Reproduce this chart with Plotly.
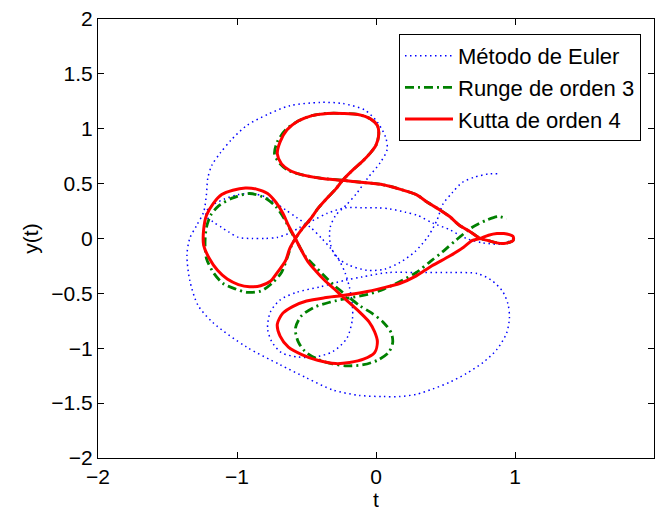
import plotly.graph_objects as go

# Kutta de orden 4 (red)
red_x = [0.99, 0.985, 0.96, 0.92, 0.87, 0.81, 0.75, 0.68, 0.60, 0.53, 0.46, 0.37, 0.29, 0.17, 0.05, -0.09, -0.24,
         -0.40, -0.53, -0.62, -0.68, -0.71, -0.69, -0.64, -0.56, -0.46, -0.35, -0.24, -0.13, -0.04, 0.01, 0.02,
         0.0, -0.04, -0.10, -0.17, -0.24, -0.29, -0.35, -0.42, -0.47, -0.53, -0.58, -0.62, -0.65, -0.71, -0.76,
         -0.83, -0.91, -0.99, -1.07, -1.14, -1.20, -1.24, -1.24, -1.22, -1.17, -1.11, -1.03, -0.94, -0.86, -0.78,
         -0.72, -0.67, -0.63, -0.58, -0.54, -0.49, -0.43, -0.37, -0.30, -0.24, -0.17, -0.11, -0.05, -0.01, 0.01,
         -0.01, -0.09, -0.19, -0.29, -0.42, -0.53, -0.63, -0.69, -0.71, -0.67, -0.60, -0.50, -0.37, -0.24, -0.09,
         0.05, 0.17, 0.29, 0.40, 0.53, 0.63, 0.69, 0.75, 0.81, 0.87, 0.92, 0.96, 0.985, 0.99]
red_y = [0.0, -0.02, -0.035, -0.045, -0.04, -0.02, 0.0, 0.06, 0.12, 0.20, 0.26, 0.33, 0.40, 0.45, 0.49, 0.51, 0.53,
         0.55, 0.58, 0.62, 0.68, 0.77, 0.88, 0.99, 1.07, 1.12, 1.14, 1.14, 1.13, 1.09, 1.03, 0.95,
         0.85, 0.78, 0.70, 0.62, 0.53, 0.45, 0.37, 0.27, 0.18, 0.09, 0.0, -0.09, -0.20, -0.31, -0.39,
         -0.43, -0.44, -0.42, -0.37, -0.29, -0.18, -0.06, 0.08, 0.21, 0.32, 0.40, 0.44, 0.46, 0.45, 0.41,
         0.33, 0.23, 0.12, 0.0, -0.10, -0.21, -0.30, -0.38, -0.46, -0.53, -0.61, -0.68, -0.76, -0.85, -0.94,
         -1.04, -1.10, -1.13, -1.14, -1.11, -1.06, -0.99, -0.89, -0.78, -0.68, -0.62, -0.57, -0.54, -0.52, -0.49,
         -0.45, -0.41, -0.34, -0.25, -0.16, -0.08, -0.02, 0.0, 0.03, 0.045, 0.045, 0.035, 0.02, 0.0]

# Runge de orden 3 (green)
green_x = [0.99, 0.985, 0.96, 0.92, 0.87, 0.81, 0.75, 0.68, 0.60, 0.53, 0.46, 0.37, 0.29, 0.17, 0.05, -0.09, -0.24,
           -0.40, -0.53, -0.63, -0.69, -0.73, -0.71, -0.65, -0.56, -0.46, -0.35, -0.24, -0.13, -0.04, 0.01, 0.02,
           0.0, -0.04, -0.10, -0.17, -0.24, -0.29, -0.35, -0.42, -0.47, -0.53, -0.58,
           -0.61, -0.64, -0.68, -0.75, -0.83, -0.93, -1.01, -1.10, -1.17, -1.22, -1.23, -1.22, -1.19, -1.13,
           -1.03, -0.91, -0.80, -0.72, -0.66, -0.61, -0.56, -0.51, -0.45, -0.38, -0.29, -0.21, -0.12, -0.03,
           0.05, 0.11, 0.12, 0.09, 0.01, -0.09, -0.21, -0.32, -0.42, -0.51, -0.56, -0.58, -0.54, -0.45, -0.33,
           -0.19, -0.06, 0.06, 0.19, 0.29, 0.39, 0.48, 0.58, 0.69, 0.80, 0.88, 0.94]
green_y = [0.0, -0.02, -0.035, -0.045, -0.04, -0.02, 0.0, 0.06, 0.12, 0.20, 0.26, 0.33, 0.40, 0.45, 0.49, 0.51, 0.53,
           0.55, 0.58, 0.62, 0.68, 0.77, 0.88, 0.99, 1.07, 1.12, 1.14, 1.14, 1.13, 1.09, 1.03, 0.95,
           0.85, 0.78, 0.70, 0.62, 0.53, 0.45, 0.37, 0.27, 0.18, 0.09, 0.0,
           -0.07, -0.18, -0.31, -0.41, -0.48, -0.49, -0.46, -0.41, -0.31, -0.18, -0.04, 0.10, 0.21, 0.30,
           0.37, 0.41, 0.37, 0.29, 0.18, 0.06, -0.05, -0.16, -0.24, -0.33, -0.44, -0.52, -0.61, -0.68,
           -0.76, -0.86, -0.95, -1.04, -1.11, -1.15, -1.16, -1.14, -1.10, -1.03, -0.94, -0.82, -0.71, -0.63, -0.58,
           -0.54, -0.51, -0.46, -0.38, -0.31, -0.21, -0.12, -0.01, 0.10, 0.17, 0.20, 0.18]

# Metodo de Euler (blue)
blue_x = [0.99, 0.91, 0.77, 0.65, 0.53, 0.41, 0.30, 0.21, 0.10, 0.01, -0.10, -0.22, -0.35, -0.46, -0.55,
          -0.62, -0.71, -0.80, -0.89, -0.99, -1.06, -1.11, -1.17, -1.22, -1.22, -1.17, -1.09, -0.99, -0.89,
          -0.80, -0.72, -0.65, -0.57, -0.47, -0.39, -0.32, -0.26, -0.22, -0.19, -0.17, -0.17, -0.21, -0.31,
          -0.44, -0.56, -0.68, -0.75, -0.78, -0.76, -0.69, -0.57, -0.40, -0.22, -0.10, 0.09, 0.29, 0.53, 0.73,
          0.83, 0.91, 0.95, 0.96, 0.94, 0.87, 0.77, 0.65, 0.53, 0.41, 0.29, 0.17, 0.05, -0.12, -0.31, -0.50,
          -0.69, -0.93, -1.17, -1.28, -1.34, -1.36, -1.34, -1.29, -1.24, -1.22, -1.21, -1.18, -1.12, -1.04,
          -0.93, -0.78, -0.62, -0.40, -0.24, -0.08, 0.01, 0.07, 0.08, 0.03, -0.06, -0.14, -0.21, -0.29, -0.33,
          -0.33, -0.29, -0.20, -0.06, 0.06, 0.17, 0.28, 0.37, 0.44, 0.48, 0.55, 0.62, 0.71, 0.82, 0.88]
blue_y = [0.0, -0.05, -0.04, 0.0, 0.08, 0.14, 0.21, 0.24, 0.27, 0.28, 0.28, 0.28, 0.23, 0.16, 0.10,
          0.05, 0.01, 0.0, 0.0, 0.01, 0.06, 0.10, 0.15, 0.20, 0.25, 0.31, 0.36, 0.40, 0.41,
          0.38, 0.32, 0.26, 0.19, 0.10, 0.0, -0.10, -0.21, -0.32, -0.45, -0.61, -0.74, -0.91, -1.03,
          -1.08, -1.08, -1.04, -0.94, -0.82, -0.67, -0.56, -0.49, -0.44, -0.38, -0.35, -0.31, -0.31, -0.31, -0.32,
          -0.38, -0.48, -0.60, -0.72, -0.86, -1.01, -1.13, -1.23, -1.31, -1.37, -1.42, -1.44, -1.44, -1.43, -1.38, -1.27,
          -1.15, -0.99, -0.77, -0.61, -0.38, -0.15, 0.0, 0.12, 0.24, 0.40, 0.55, 0.67, 0.78, 0.90,
          1.03, 1.13, 1.21, 1.24, 1.23, 1.17, 1.06, 0.92, 0.81, 0.69, 0.55, 0.41, 0.31, 0.21, 0.10,
          -0.04, -0.16, -0.24, -0.29, -0.28, -0.22, -0.12, 0.01, 0.17, 0.31, 0.42, 0.51, 0.56, 0.59, 0.59]

tick_vals_x = [-2, -1, 0, 1, 2]
tick_text_x = ["\u22122", "\u22121", "0", "1", "2"]
tick_vals_y = [-2, -1.5, -1, -0.5, 0, 0.5, 1, 1.5, 2]
tick_text_y = ["\u22122", "\u22121.5", "\u22121", "\u22120.5", "0", "0.5", "1", "1.5", "2"]

FONT = "Liberation Sans, Arial, Helvetica, sans-serif"

fig = go.Figure()
fig.add_trace(go.Scatter(x=blue_x, y=blue_y, mode="lines", name="Método de Euler",
                         line=dict(color="#0000ff", width=1.5, dash="1.5px,3.5px", shape="spline", smoothing=0.8)))
fig.add_trace(go.Scatter(x=green_x, y=green_y, mode="lines", name="Runge de orden 3",
                         line=dict(color="#008000", width=2.8, dash="9px,4px,2px,4px", shape="spline", smoothing=0.8)))
fig.add_trace(go.Scatter(x=red_x, y=red_y, mode="lines", name="Kutta de orden 4",
                         line=dict(color="#ff0000", width=3, shape="spline", smoothing=0.8)))

axis_common = dict(
    showgrid=False, zeroline=False, showline=True, linecolor="black", linewidth=1,
    mirror="ticks", ticks="inside", ticklen=6, tickcolor="black", tickwidth=1,
    tickfont=dict(family=FONT, size=21, color="black"),
)

fig.update_layout(
    width=656, height=509,
    margin=dict(l=98, r=2, t=19, b=51, autoexpand=False),
    paper_bgcolor="white", plot_bgcolor="white",
    font=dict(family=FONT, size=21, color="black"),
    xaxis=dict(range=[-2, 2], tickvals=tick_vals_x, ticktext=tick_text_x, **axis_common),
    yaxis=dict(range=[-2, 2], tickvals=tick_vals_y, ticktext=tick_text_y, **axis_common),
    legend=dict(x=0.9766, y=0.9658, xanchor="right", yanchor="top", bgcolor="white",
                bordercolor="black", borderwidth=1, font=dict(family=FONT, size=22),
                tracegroupgap=0, itemwidth=48),
    showlegend=True,
    annotations=[
        dict(text="t", xref="paper", yref="paper", x=0.5, y=-0.0934, xanchor="center", yanchor="middle",
             height=18, valign="middle", showarrow=False, font=dict(family=FONT, size=21)),
        dict(text="y(t)", xref="paper", yref="paper", x=-0.122, y=0.5, xanchor="center", yanchor="middle",
             textangle=-90, showarrow=False, font=dict(family=FONT, size=21)),
    ],
)

fig.write_html("out.html", config={"displayModeBar": False},
               post_script="document.body.style.margin='0';document.body.style.overflow='hidden';")
